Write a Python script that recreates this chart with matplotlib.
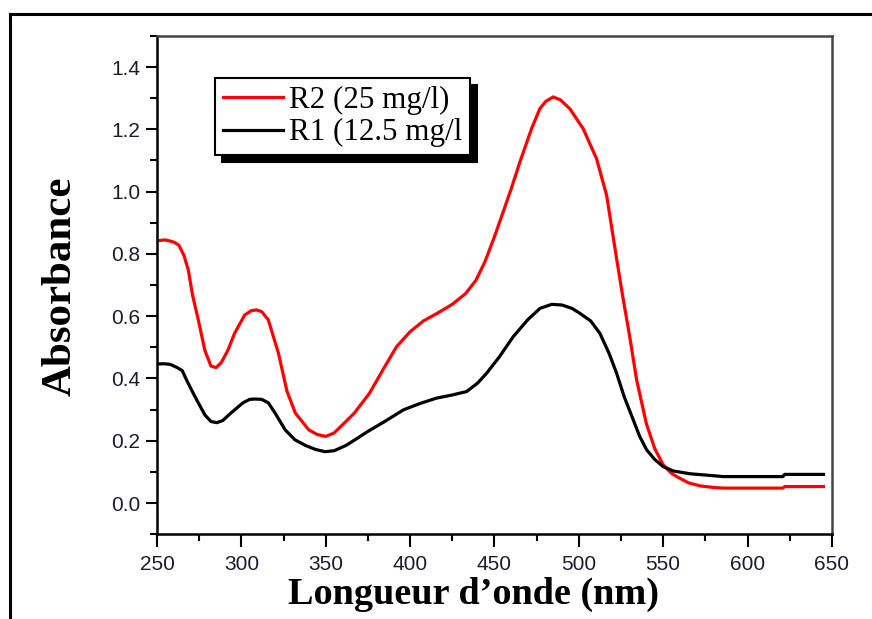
import matplotlib
matplotlib.use("Agg")
import matplotlib.pyplot as plt
from matplotlib.lines import Line2D
from matplotlib.ticker import MultipleLocator

# Absorption spectra
wl_r2 = [250, 255, 260, 263, 266, 268.6, 271, 274.5, 278.4, 282, 285, 288, 292, 296,
         302, 306, 309, 312, 316, 322, 327, 332, 340, 345, 350, 355, 362, 367, 376,
         385, 392, 400, 408, 416, 425, 433, 439, 444.4, 450, 455.2, 460, 465.1, 472,
         476.9, 480.5, 484.8, 489, 494.7, 502.6, 510.5, 516.5, 522.4, 526, 530, 534.3,
         540, 545, 550, 555, 558, 565, 572, 580, 586, 600, 621, 622, 645]
abs_r2 = [0.842, 0.845, 0.838, 0.828, 0.795, 0.748, 0.67, 0.588, 0.49, 0.44, 0.435, 0.45,
          0.49, 0.545, 0.604, 0.618, 0.62, 0.615, 0.588, 0.481, 0.36, 0.289, 0.235, 0.22,
          0.214, 0.225, 0.262, 0.289, 0.353, 0.438, 0.502, 0.55, 0.585, 0.609, 0.638,
          0.673, 0.715, 0.775, 0.855, 0.935, 1.01, 1.095, 1.202, 1.266, 1.29, 1.304,
          1.295, 1.266, 1.202, 1.106, 0.988, 0.785, 0.665, 0.54, 0.395, 0.256, 0.175,
          0.123, 0.095, 0.085, 0.065, 0.055, 0.05, 0.048, 0.048, 0.048, 0.053, 0.053]

wl_r1 = [250, 255, 258, 262, 265, 268, 272.5, 278.4, 282, 285.4, 289, 293, 296, 301,
         305, 308, 312, 316, 320, 326, 331.8, 338, 344, 349.6, 355, 362, 367.3, 375,
         385, 396, 405, 415.7, 425, 433.5, 440, 445.4, 453, 461.1, 470, 477, 483.9,
         490, 496, 500.7, 507, 512.5, 518, 522.4, 527, 532.3, 536, 540.2, 545, 550,
         556, 566, 575, 585.6, 621, 622, 645]
abs_r1 = [0.447, 0.447, 0.445, 0.435, 0.425, 0.39, 0.342, 0.283, 0.262, 0.258, 0.265,
          0.285, 0.299, 0.322, 0.333, 0.334, 0.333, 0.322, 0.289, 0.235, 0.203, 0.185,
          0.172, 0.165, 0.168, 0.185, 0.203, 0.23, 0.262, 0.299, 0.318, 0.337, 0.347,
          0.358, 0.385, 0.417, 0.47, 0.534, 0.59, 0.625, 0.638, 0.636, 0.625, 0.609,
          0.585, 0.545, 0.48, 0.417, 0.34, 0.267, 0.215, 0.171, 0.14, 0.117, 0.103,
          0.094, 0.09, 0.085, 0.085, 0.092, 0.092]

labels = ["R2 (25 mg/l)", "R1 (12.5 mg/l"]
x_ticks = [250, 300, 350, 400, 450, 500, 550, 600, 650]
y_ticks = [0.0, 0.2, 0.4, 0.6, 0.8, 1.0, 1.2, 1.4]

fig = plt.figure(figsize=(8.72, 6.19), dpi=100)
ax = fig.add_axes([0.180, 0.137, 0.774, 0.805])

ax.plot(wl_r2, abs_r2, color="#ff0000", lw=2.3, label=labels[0])
ax.plot(wl_r1, abs_r1, color="black", lw=2.3, label=labels[1])

ax.set_xlim(250, 650)
ax.set_ylim(-0.1, 1.5)
ax.set_xticks(x_ticks)
ax.set_yticks(y_ticks)
ax.set_xticklabels([str(v) for v in x_ticks])
ax.set_yticklabels([f"{v:.1f}" for v in y_ticks])
ax.xaxis.set_minor_locator(MultipleLocator(25))
ax.yaxis.set_minor_locator(MultipleLocator(0.1))

ax.tick_params(which="major", direction="out", width=1.5,
               labelsize=15, colors="black", labelcolor="#1c1c30")
ax.tick_params(axis="x", which="major", length=9, pad=6)
ax.tick_params(axis="y", which="major", length=8, pad=4)
ax.tick_params(which="minor", direction="out", length=5, width=1.5)
ax.tick_params(top=False, right=False, which="both")
for lab in ax.get_xticklabels() + ax.get_yticklabels():
    lab.set_family("Liberation Sans")

for side in ["left", "bottom"]:
    ax.spines[side].set_linewidth(1.8)
    ax.spines[side].set_color("black")
for side in ["top", "right"]:
    ax.spines[side].set_linewidth(1.8)
    ax.spines[side].set_color("#444444")

ax.set_xlabel("Longueur d\u2019onde (nm)", family="Liberation Serif",
              fontweight="bold", fontsize=27.5, labelpad=2)
ax.xaxis.set_label_coords(0.469, -0.085)
ax.set_ylabel("Absorbance", family="Liberation Serif",
              fontweight="bold", fontsize=31)
ax.yaxis.set_label_coords(-0.114, 0.497)

leg = ax.legend(loc="upper left", bbox_to_anchor=(0.086, 0.916),
                borderaxespad=0, frameon=True, fancybox=False,
                edgecolor="black", framealpha=1,
                shadow={"color": "black", "alpha": 1, "ox": 5, "oy": -5},
                prop={"family": "Liberation Serif", "size": 22.3},
                handlelength=1.95, handletextpad=0.18, labelspacing=0.12,
                borderpad=0.25)
leg.get_frame().set_linewidth(1.5)

# Outer frame of the figure
fig.add_artist(Line2D([10 / 872, 10 / 872], [0, 1 - 14 / 619],
                      transform=fig.transFigure, color="black", lw=2.2))
fig.add_artist(Line2D([10 / 872, 1], [1 - 14 / 619, 1 - 14 / 619],
                      transform=fig.transFigure, color="black", lw=2.2))

fig.savefig("out.png", dpi=100)
